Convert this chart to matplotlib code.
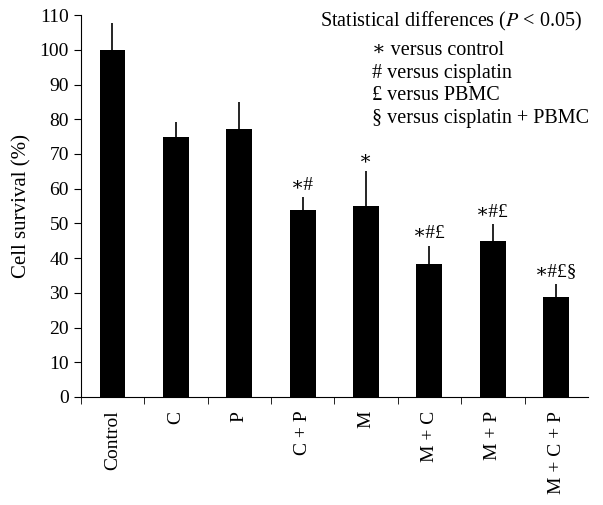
import matplotlib.pyplot as plt
import numpy as np

plt.rcParams['font.family'] = ['Liberation Serif', 'DejaVu Serif']
plt.rcParams['mathtext.fontset'] = 'stix'

groups = ['Control', 'C', 'P', 'C + P', 'M', 'M + C', 'M + P', 'M + C + P']
survival = [100, 75, 77.3, 53.8, 55, 38.3, 45, 28.8]
errors = [7.8, 4.2, 7.8, 3.8, 10.2, 5.2, 4.8, 3.8]
marks = ['', '', '', '∗#', '∗', '∗#£', '∗#£', '∗#£§']
legend_lines = ['∗ versus control', '# versus cisplatin', '£ versus PBMC',
                '§ versus cisplatin + PBMC']

fig = plt.figure(figsize=(6.03, 5.05), dpi=100)
ax = fig.add_axes([0.134, 0.214, 0.841, 0.756])

x = np.arange(len(groups)) + 0.5
ax.bar(x, survival, width=0.41, color='black')
ax.errorbar(x, survival, yerr=[np.zeros(len(errors)), errors], fmt='none',
            ecolor='black', elinewidth=1.2, capsize=0)

for xi, v, e, m in zip(x, survival, errors, marks):
    if m:
        ax.text(xi, v + e + 1.0, m, ha='center', va='bottom', fontsize=14)

ax.set_xlim(0, 8)
ax.set_ylim(0, 110)
ax.set_yticks(np.arange(0, 111, 10))
ax.set_xticks(x)
ax.set_xticklabels(groups, rotation=90, fontsize=14)
ax.set_xticks(np.arange(0, 8), minor=True)
ax.tick_params(axis='x', which='major', length=0, pad=10)
ax.tick_params(axis='x', which='minor', length=5, direction='out')
ax.tick_params(axis='y', length=5, direction='out', labelsize=14)
ax.set_ylabel('Cell survival (%)', fontsize=15, labelpad=6)
ax.spines['top'].set_visible(False)
ax.spines['right'].set_visible(False)

fig.text(0.53, 0.958, 'Statistical differences ($P$ < 0.05)', fontsize=14.5,
         ha='left', va='center')
for i, line in enumerate(legend_lines):
    fig.text(0.617, 0.9 - i * 0.0446, line, fontsize=14.5, ha='left', va='center')

fig.savefig('out.png', dpi=100)
